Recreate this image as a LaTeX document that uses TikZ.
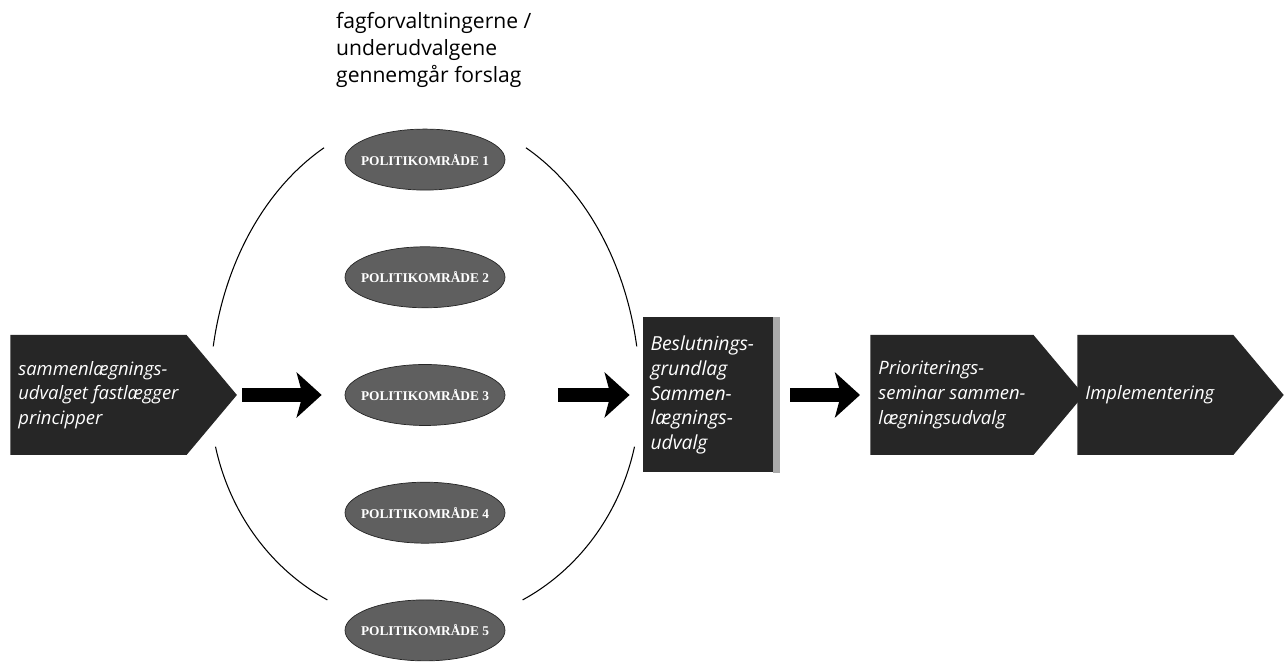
\documentclass[tikz,border=0pt]{standalone}
\usepackage{fontspec}
\setmainfont{Open Sans}
\newfontfamily\omrfont{Liberation Serif}
\usetikzlibrary{shapes.geometric, shapes.symbols, arrows.meta, positioning}
\definecolor{darkbox}{RGB}{38, 38, 38}
\definecolor{omrfill}{RGB}{95, 95, 95}
\definecolor{shadowgray}{RGB}{170, 170, 170}

\begin{document}
\begin{tikzpicture}[
    node distance=1.12cm,
    stepsig/.style={signal, signal to=east, signal pointer angle=100, fill=darkbox, text=white, font=\fontsize{10.5}{14}\selectfont\itshape, align=left, minimum height=2.4cm, inner xsep=0.16cm, anchor=west},
    omr/.style={ellipse, draw=black!85, fill=omrfill, text=white, minimum width=3.2cm, minimum height=1.22cm, inner ysep=0pt, inner xsep=-0.35cm, font=\omrfont\fontsize{7.6}{8}\selectfont\bfseries},
    beslbox/.style={rectangle, fill=darkbox, text=white, text width=2.3cm, align=left, minimum width=2.6cm, minimum height=3.1cm, font=\fontsize{11}{14}\selectfont\itshape},
    bigarrow/.style={-{Stealth[length=0.5cm, width=0.9cm, inset=0.12cm]}, line width=0.28cm},
    ringline/.style={black, line width=0.6pt}
]
\useasboundingbox (0,0) rectangle (25.74,13.32);

% udvalg
\node[stepsig] (samudv) at (0.2,5.42) {sammenlægnings-\\udvalget fastlægger\\principper};

% politikområder
\node[omr] (omr3) at (8.5,5.42) {POLITIKOMRÅDE 3};
\node[omr, above=of omr3] (omr2) {POLITIKOMRÅDE 2};
\node[omr, above=of omr2] (omr1) {POLITIKOMRÅDE 1};
\node[omr, below=of omr3] (omr4) {POLITIKOMRÅDE 4};
\node[omr, below=of omr4] (omr5) {POLITIKOMRÅDE 5};
\node[anchor=north west, align=left, font=\fontsize{12}{15.4}\selectfont] (fagtxt) at (6.6,13.2) {fagforvaltningerne /\\underudvalgene\\gennemgår forslag};

% ring
\coordinate (ring) at (omr3.center);
\draw[ringline] ([shift={(118:4.3cm and 5.6cm)}]ring) arc[start angle=118, end angle=170, x radius=4.3cm, y radius=5.6cm];
\draw[ringline] ([shift={(62:4.3cm and 5.6cm)}]ring) arc[start angle=62, end angle=10, x radius=4.3cm, y radius=5.6cm];
\draw[ringline] ([shift={(193:4.3cm and 4.6cm)}]ring) arc[start angle=193, end angle=243, x radius=4.3cm, y radius=4.6cm];
\draw[ringline] ([shift={(-13:4.3cm and 4.6cm)}]ring) arc[start angle=-13, end angle=-63, x radius=4.3cm, y radius=4.6cm];

% beslutning
\node[beslbox] (beslut) at (14.16,5.42) {Beslutnings-\\grundlag\\Sammen-\\lægnings-\\udvalg};
\fill[shadowgray] (beslut.north east) rectangle ([xshift=0.14cm]beslut.south east);

% seminar og implementering
\node[stepsig] (prio) at (17.4,5.42) {Prioriterings-\\seminar sammen-\\lægningsudvalg};
\node[stepsig, text width=2.8cm] (impl) at (21.54,5.42) {Implementering};

% pile
\draw[bigarrow, shorten <=0.1cm, shorten >=0.46cm] (samudv.east) -- (omr3.west);
\draw[bigarrow, shorten <=1.06cm, shorten >=0.26cm] (omr3.east) -- (beslut.west);
\draw[bigarrow, shorten <=0.34cm, shorten >=0.2cm] (beslut.east) -- (prio.west);

\end{tikzpicture}
\end{document}
